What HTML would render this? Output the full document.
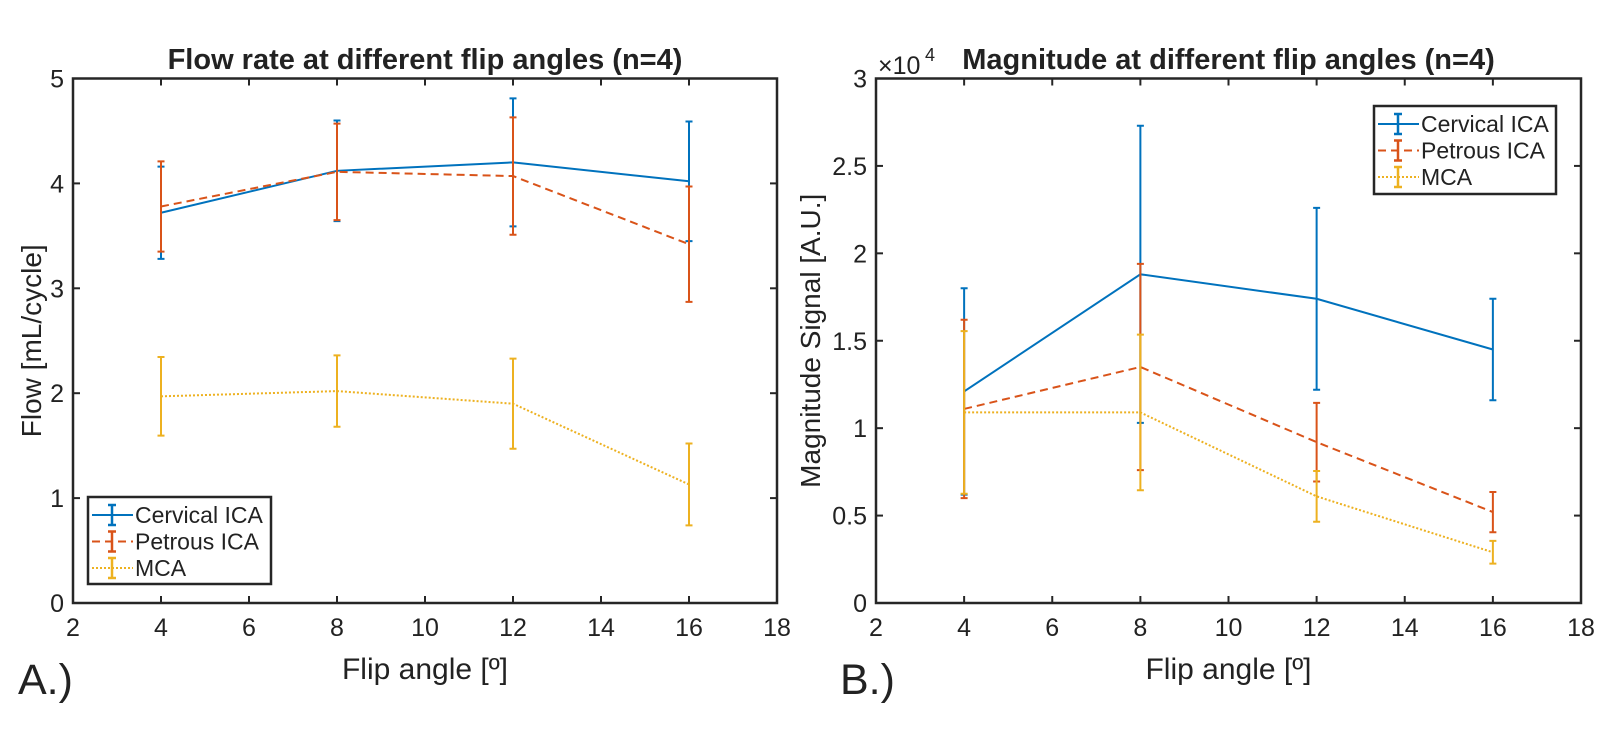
<!DOCTYPE html>
<html><head><meta charset="utf-8"><style>
body{margin:0;background:#fff;}
svg text{font-family:"Liberation Sans",Arial,sans-serif;fill:#222;}
</style></head><body>
<svg id="s" width="1601" height="729" xmlns="http://www.w3.org/2000/svg"></svg>
<script>
const xCats=[4,8,12,16];
const xTicks=[2,4,6,8,10,12,14,16,18];
const flowCerv=[3.72,4.12,4.20,4.02];
const flowCervErr=[0.44,0.48,0.61,0.57];
const flowPetr=[3.78,4.11,4.07,3.42];
const flowPetrErr=[0.43,0.46,0.56,0.55];
const flowMca=[1.97,2.02,1.90,1.13];
const flowMcaErr=[0.375,0.34,0.43,0.39];
const flowTicks=[0,1,2,3,4,5];
const magCerv=[1.21,1.88,1.74,1.45];
const magCervErr=[0.59,0.85,0.52,0.29];
const magPetr=[1.11,1.35,0.92,0.52];
const magPetrErr=[0.51,0.59,0.225,0.115];
const magMca=[1.09,1.09,0.61,0.29];
const magMcaErr=[0.465,0.445,0.145,0.065];
const magTicks=[0,0.5,1,1.5,2,2.5,3];
const magTickLabels=['0','0.5','1','1.5','2','2.5','3'];
const seriesNames=['Cervical ICA','Petrous ICA','MCA'];

const NS='http://www.w3.org/2000/svg';
const svg=document.getElementById('s');
const COL=['#0072BD','#D95319','#EDB120'];
const DASH=['','8,5','2,2'];
function el(tag,attrs,parent){const e=document.createElementNS(NS,tag);for(const k in attrs)e.setAttribute(k,attrs[k]);(parent||svg).appendChild(e);return e;}
function txt(str,attrs,parent){const t=el('text',attrs,parent);t.textContent=str;return t;}

function panel(cfg){
  const g=el('g',{});
  
  
  const L=cfg.L,R=cfg.R,T=78.5,B=603;
  const xs=v=>L+(v-2)/16*(R-L);
  const ys=v=>B-(v-cfg.ymin)/(cfg.ymax-cfg.ymin)*(B-T);
  el('rect',{x:L,y:T,width:R-L,height:B-T,fill:'#fff',stroke:'none'},g);
  xTicks.forEach(t=>{
    const x=xs(t);
    el('line',{x1:x,y1:B,x2:x,y2:B-7,stroke:'#262626','stroke-width':2},g);
    el('line',{x1:x,y1:T,x2:x,y2:T+7,stroke:'#262626','stroke-width':2},g);
    const lab=txt(String(t),{x:x,y:B+33,'font-size':25,'text-anchor':'middle'},g);
    
    
  });
  cfg.yticks.forEach((t,i)=>{
    const y=ys(t);
    el('line',{x1:L,y1:y,x2:L+7,y2:y,stroke:'#262626','stroke-width':2},g);
    el('line',{x1:R,y1:y,x2:R-7,y2:y,stroke:'#262626','stroke-width':2},g);
    const lab=txt(cfg.ylabels[i],{x:L-9,y:y+9,'font-size':25,'text-anchor':'end'},g);
    
    
  });
  cfg.series.forEach((s,si)=>{
    const sg=el('g',{},g);
    
    
    const pts=s.v.map((v,i)=>xs(xCats[i])+','+ys(v)).join(' ');
    const pl=el('polyline',{points:pts,fill:'none',stroke:COL[si],'stroke-width':2},sg);
    if(DASH[si])pl.setAttribute('stroke-dasharray',DASH[si]);
    s.v.forEach((v,i)=>{
      const x=xs(xCats[i]),y1=ys(v-s.e[i]),y2=ys(v+s.e[i]);
      const eb=el('path',{d:`M${x},${y1}V${y2}M${x-3.5},${y1}H${x+3.5}M${x-3.5},${y2}H${x+3.5}`,stroke:COL[si],'stroke-width':2,fill:'none'},sg);
      
      
    });
  });
  el('rect',{x:L,y:T,width:R-L,height:B-T,fill:'none',stroke:'#262626','stroke-width':2.5},g);
  const tt=txt(cfg.title,{x:(L+R)/2,y:69,'font-size':29,'font-weight':'bold','text-anchor':'middle'},g);
  
  
  const xl=txt('Flip angle [º]',{x:(L+R)/2,y:679,'font-size':30,'text-anchor':'middle'},g);
  
  
  const yl=txt(cfg.ylabel,{x:0,y:0,'font-size':28,'text-anchor':'middle',transform:`translate(${cfg.ylx},${(T+B)/2}) rotate(-90)`},g);
  
  
  const pl=txt(cfg.plabel,{x:cfg.plx,y:694,'font-size':43},g);
  
  
  const lg=el('g',{},g);
  
  
  const [lx,ly,lw,lh]=cfg.leg;
  el('rect',{x:lx,y:ly,width:lw,height:lh,fill:'#fff',stroke:'#262626','stroke-width':2.5},lg);
  seriesNames.forEach((n,i)=>{
    const cy=ly+18+i*26.5;
    const en=el('g',{},lg);
    
    
    const ln=el('line',{x1:lx+4,y1:cy,x2:lx+45,y2:cy,stroke:COL[i],'stroke-width':2},en);
    if(DASH[i])ln.setAttribute('stroke-dasharray',DASH[i]);
    el('path',{d:`M${lx+24},${cy-10}V${cy+10}M${lx+20},${cy-10}H${lx+28}M${lx+20},${cy+10}H${lx+28}`,stroke:COL[i],'stroke-width':2.5,fill:'none'},en);
    txt(n,{x:lx+47,y:cy+8,'font-size':23},en);
  });
}
panel({name:'flow-rate-chart',L:73,R:777,ymin:0,ymax:5,yticks:flowTicks,ylabels:flowTicks.map(String),
  title:'Flow rate at different flip angles (n=4)',ylabel:'Flow [mL/cycle]',ylx:41,plabel:'A.)',plx:18,
  leg:[88,497,183,87],
  series:[{v:flowCerv,e:flowCervErr},{v:flowPetr,e:flowPetrErr},{v:flowMca,e:flowMcaErr}]});
panel({name:'magnitude-chart',L:876,R:1581,ymin:0,ymax:3,yticks:magTicks,ylabels:magTickLabels,
  title:'Magnitude at different flip angles (n=4)',ylabel:'Magnitude Signal [A.U.]',ylx:820,plabel:'B.)',plx:840,
  leg:[1374,106,182,88],
  series:[{v:magCerv,e:magCervErr},{v:magPetr,e:magPetrErr},{v:magMca,e:magMcaErr}]});
const ex=txt('×10',{x:878,y:74,'font-size':25});


txt('4',{x:925,y:61,'font-size':18});
</script>
</body></html>
